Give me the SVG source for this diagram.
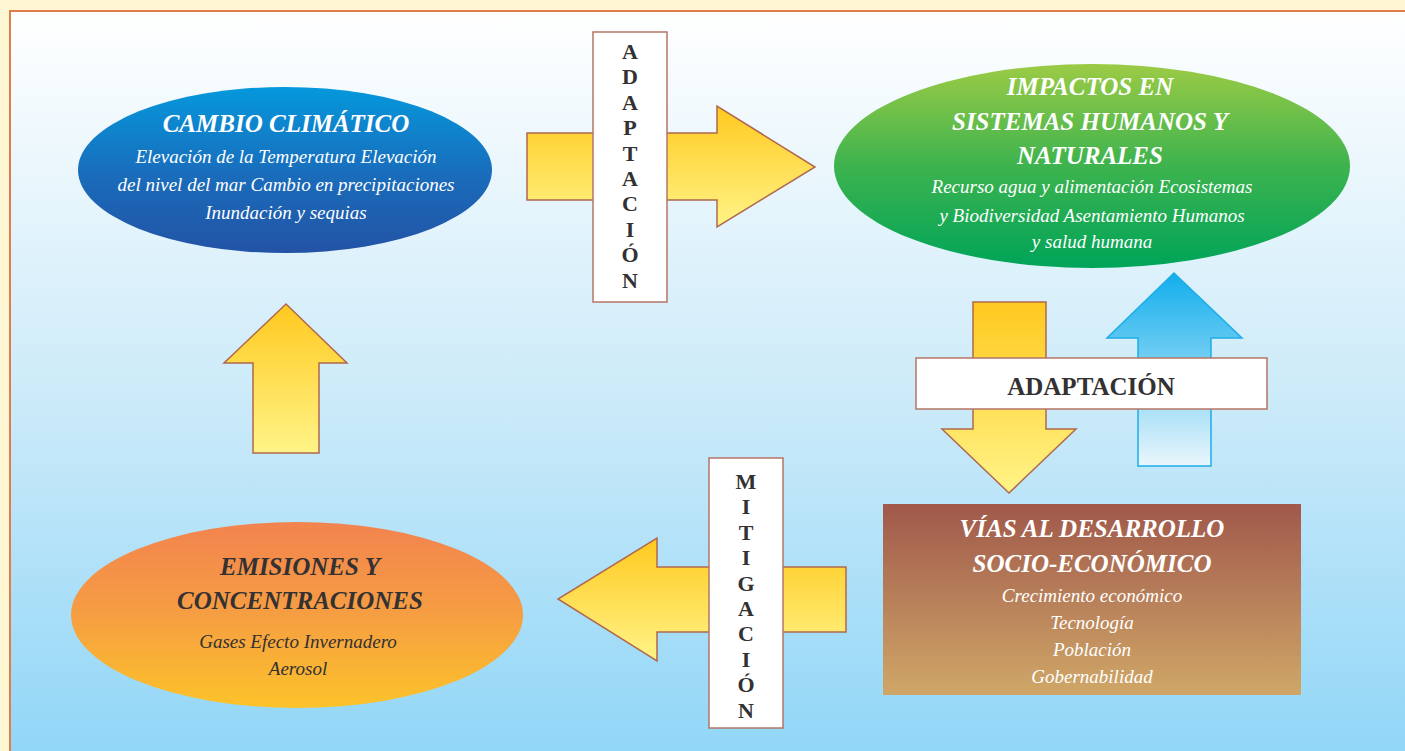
<svg xmlns="http://www.w3.org/2000/svg" width="1405" height="751" viewBox="0 0 1405 751">
<defs>
<linearGradient id="bg" x1="0" y1="0" x2="0" y2="1"><stop offset="0" stop-color="#FFFFFF"/><stop offset="0.5" stop-color="#CDEBF9"/><stop offset="1" stop-color="#8ED5F7"/></linearGradient>
<linearGradient id="gBlue" x1="0" y1="0" x2="0" y2="1"><stop offset="0" stop-color="#0598DC"/><stop offset="0.55" stop-color="#1A6BBA"/><stop offset="1" stop-color="#2353A5"/></linearGradient>
<linearGradient id="gGreen" x1="0" y1="0" x2="0" y2="1"><stop offset="0" stop-color="#9CCB45"/><stop offset="0.5" stop-color="#3DB34E"/><stop offset="1" stop-color="#00A459"/></linearGradient>
<linearGradient id="gOrange" x1="0" y1="0" x2="0" y2="1"><stop offset="0" stop-color="#F2834F"/><stop offset="0.5" stop-color="#F69E42"/><stop offset="1" stop-color="#FCC32A"/></linearGradient>
<linearGradient id="gBrown" x1="0" y1="0" x2="0" y2="1"><stop offset="0" stop-color="#A0584A"/><stop offset="0.5" stop-color="#B8805A"/><stop offset="1" stop-color="#CFA767"/></linearGradient>
<linearGradient id="gYellow" x1="0" y1="0" x2="0" y2="1"><stop offset="0" stop-color="#FFC91F"/><stop offset="1" stop-color="#FFF488"/></linearGradient>
<linearGradient id="gSky" x1="0" y1="0" x2="0" y2="1"><stop offset="0" stop-color="#12AEEC"/><stop offset="1" stop-color="#EAF6FC"/></linearGradient>
<style>
.yarrow{fill:url(#gYellow);stroke:#B0684E;stroke-width:1.5;stroke-linejoin:miter}
.barrow{fill:url(#gSky);stroke:#1CADE8;stroke-width:1.5}
.lbox{fill:#FFFFFF;stroke:#B57565;stroke-width:1.5}
.vl{font-family:"Liberation Serif","DejaVu Serif",serif;font-weight:bold;font-size:22px;fill:#333132;text-anchor:middle}
.ttl{font-family:"Liberation Serif","DejaVu Serif",serif;font-weight:bold;font-style:italic;text-anchor:middle}
.sub{font-family:"Liberation Serif","DejaVu Serif",serif;font-style:italic;font-size:19px;text-anchor:middle}
.w{fill:#FFFFFF}
.d{fill:#333132}
</style>
</defs>
<rect x="0" y="0" width="1405" height="751" fill="#FFF7D4"/>
<rect x="10" y="11" width="1405" height="760" fill="url(#bg)" stroke="#E17C4B" stroke-width="2"/>

<g id="connectors">
<path class="yarrow" d="M527,133 H717 V106 L815,167 L717,227 V200 H527 Z"/>
<path class="yarrow" d="M253,453 V363 H224 L286,304 L347,363 H319 V453 Z"/>
<path class="yarrow" d="M846,567 H657 V538 L558,599 L657,661 V632 H846 Z"/>
<path class="yarrow" d="M973,302 H1046 V429 H1076 L1009,493 L942,429 H973 Z"/>
<path class="barrow" d="M1138,466 V338 H1107 L1174,273 L1242,338 H1211 V466 Z"/>
</g>

<g id="label-adaptacion-top">
<rect class="lbox" x="593" y="32" width="74" height="270"/>
<text class="vl" x="630" y="59">A</text>
<text class="vl" x="630" y="84.4">D</text>
<text class="vl" x="630" y="109.8">A</text>
<text class="vl" x="630" y="135.2">P</text>
<text class="vl" x="630" y="160.6">T</text>
<text class="vl" x="630" y="186">A</text>
<text class="vl" x="630" y="211.4">C</text>
<text class="vl" x="630" y="236.8">I</text>
<text class="vl" x="630" y="262.2">Ó</text>
<text class="vl" x="630" y="288">N</text>
</g>

<g id="label-mitigacion">
<rect class="lbox" x="709" y="458" width="74" height="270"/>
<text class="vl" x="746" y="489">M</text>
<text class="vl" x="746" y="514.4">I</text>
<text class="vl" x="746" y="539.8">T</text>
<text class="vl" x="746" y="565.2">I</text>
<text class="vl" x="746" y="590.6">G</text>
<text class="vl" x="746" y="616">A</text>
<text class="vl" x="746" y="641.4">C</text>
<text class="vl" x="746" y="666.8">I</text>
<text class="vl" x="746" y="692.2">Ó</text>
<text class="vl" x="746" y="718">N</text>
</g>

<g id="label-adaptacion-right">
<rect class="lbox" x="916" y="358" width="351" height="51"/>
<text class="vl" x="1091" y="395" style="font-size:25px">ADAPTACIÓN</text>
</g>

<g id="cambio-climatico">
<ellipse cx="285" cy="170" rx="207" ry="83" fill="url(#gBlue)"/>
<text class="ttl w" x="286" y="132" font-size="25">CAMBIO CLIMÁTICO</text>
<text class="sub w" x="286" y="163">Elevación de la Temperatura Elevación</text>
<text class="sub w" x="286" y="191">del nivel del mar Cambio en precipitaciones</text>
<text class="sub w" x="286" y="219">Inundación y sequias</text>
</g>

<g id="impactos">
<ellipse cx="1092" cy="166" rx="258" ry="102" fill="url(#gGreen)"/>
<text class="ttl w" x="1090" y="95" font-size="25">IMPACTOS EN</text>
<text class="ttl w" x="1090" y="130" font-size="25">SISTEMAS HUMANOS Y</text>
<text class="ttl w" x="1090" y="164" font-size="25">NATURALES</text>
<text class="sub w" x="1092" y="193">Recurso agua y alimentación Ecosistemas</text>
<text class="sub w" x="1092" y="222">y Biodiversidad Asentamiento Humanos</text>
<text class="sub w" x="1092" y="248">y salud humana</text>
</g>

<g id="vias-desarrollo">
<rect x="883" y="504" width="418" height="191" fill="url(#gBrown)"/>
<text class="ttl w" x="1092" y="537" font-size="25">VÍAS AL DESARROLLO</text>
<text class="ttl w" x="1092" y="572" font-size="25">SOCIO-ECONÓMICO</text>
<text class="sub w" x="1092" y="602">Crecimiento económico</text>
<text class="sub w" x="1092" y="629">Tecnología</text>
<text class="sub w" x="1092" y="656">Población</text>
<text class="sub w" x="1092" y="683">Gobernabilidad</text>
</g>

<g id="emisiones">
<ellipse cx="297" cy="615" rx="226" ry="93" fill="url(#gOrange)"/>
<text class="ttl d" x="300" y="575" font-size="25">EMISIONES Y</text>
<text class="ttl d" x="300" y="609" font-size="25">CONCENTRACIONES</text>
<text class="sub d" x="298" y="648">Gases Efecto Invernadero</text>
<text class="sub d" x="298" y="675">Aerosol</text>
</g>
</svg>
